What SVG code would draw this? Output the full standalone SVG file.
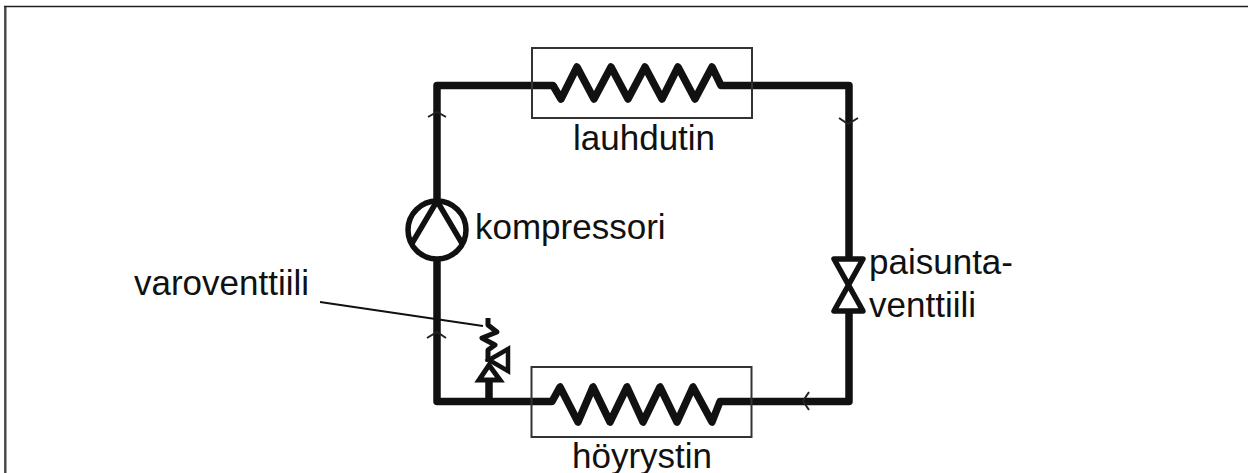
<svg xmlns="http://www.w3.org/2000/svg" width="1248" height="473" viewBox="0 0 1248 473">
<style>
text{font-family:"Liberation Sans",Arial,sans-serif;font-size:35px;fill:#111}
.pipe{fill:none;stroke:#111;stroke-width:7.5;stroke-linejoin:round;stroke-linecap:round}
.thin{fill:none;stroke:#333;stroke-width:2}
.head{fill:none;stroke:#222;stroke-width:2}
</style>
<rect width="1248" height="473" fill="#fff"/>
<path id="frame-left" d="M5.3 473V6" fill="none" stroke="#444" stroke-width="2.4"/>
<path id="frame-top" d="M4 6.5H1248" fill="none" stroke="#222" stroke-width="1.6"/>
<g id="connectors">
<path class="pipe" d="M437 200V85.500H553L561 99L577 67L594 99L611 67L628 99L645 67L662 99L678 67L695 99L712 67L721 85.500H849V256"/>
<path class="pipe" d="M849 312V401.500H720L712 422L693 387L677 422L660 387L643 422L627 387L610 422L593 387L578 422L560 387L552 401.500H437V262"/>
<path class="pipe" d="M489 400V381" style="stroke-linecap:butt"/>
<path class="head" d="M428 117L437 112L446 117M427 338L437 332L446 338M839 118L848 124L858 118M809 392L803 401L809 410"/>
<path d="M320 302L483 326" fill="none" stroke="#111" stroke-width="1.8"/>
</g>
<g id="lauhdutin"><rect class="thin" x="532" y="48" width="220" height="70"/><text x="573" y="150">lauhdutin</text></g>
<g id="kompressori"><circle cx="437" cy="230" r="29" fill="#fff" stroke="#111" stroke-width="5.500"/><path d="M411 245L437 201L463 245" fill="none" stroke="#111" stroke-width="5.500"/><text x="475" y="239">kompressori</text></g>
<g id="paisuntaventtiili"><path d="M834 259H863L834 311H863Z" fill="#fff" stroke="#111" stroke-width="5.500" stroke-linejoin="round"/><text x="869" y="274">paisunta-</text><text x="869" y="317">venttiili</text></g>
<g id="varoventtiili"><path d="M488 318V325L497 332L482 338L495 345L488 350V362" fill="none" stroke="#111" stroke-width="5" stroke-linejoin="round"/><path d="M479 380H500L489 365Z" fill="#fff" stroke="#111" stroke-width="5"/><path d="M489 360L508 349V371Z" fill="#fff" stroke="#111" stroke-width="4.500"/><text x="134" y="295">varoventtiili</text></g>
<g id="hoyrystin"><rect class="thin" x="531.500" y="367" width="220" height="70"/><text x="572" y="468">höyrystin</text></g>
</svg>
